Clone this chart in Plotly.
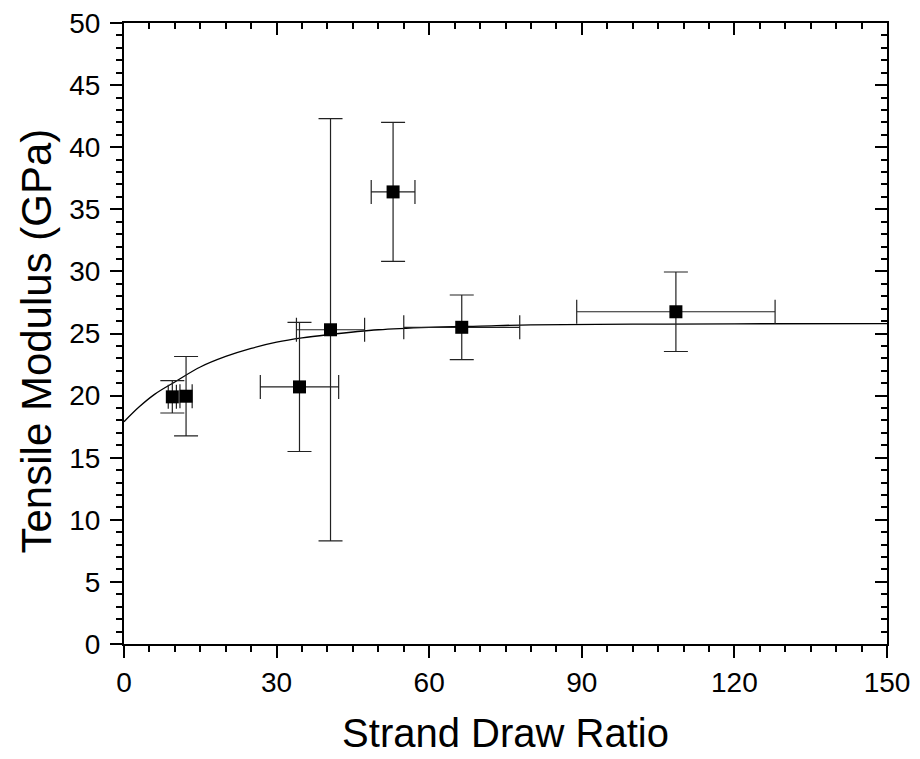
import plotly.graph_objects as go

# Data points
draw_ratio = [9.5, 12.2, 34.5, 40.6, 52.9, 66.4, 108.5]
draw_ratio_err = [0.8, 1.2, 7.7, 6.7, 4.3, 11.4, 19.5]
modulus = [19.9, 19.95, 20.7, 25.3, 36.4, 25.5, 26.75]
modulus_err = [1.3, 3.2, 5.2, 17.0, 5.6, 2.6, 3.2]

# Fitted curve
curve_x = [0, 3, 6, 10, 15, 20, 25, 30, 35, 40, 50, 60, 70, 80, 100, 120, 150]
curve_y = [17.9, 19.1, 20.1, 21.1, 22.3, 23.15, 23.8, 24.3, 24.65, 24.9, 25.3, 25.5, 25.6, 25.7, 25.75, 25.78, 25.8]

x_ticks = [0, 30, 60, 90, 120, 150]
y_ticks = [0, 5, 10, 15, 20, 25, 30, 35, 40, 45, 50]

x_title = "Strand Draw Ratio"
y_title = "Tensile Modulus (GPa)"

FONT = "Liberation Sans"

fig = go.Figure()
fig.add_trace(go.Scatter(x=curve_x, y=curve_y, mode="lines",
                         line=dict(color="black", width=1.3, shape="spline"),
                         showlegend=False, hoverinfo="skip"))
fig.add_trace(go.Scatter(
    x=draw_ratio, y=modulus, mode="markers",
    marker=dict(symbol="square", size=13, color="black"),
    error_x=dict(type="data", array=draw_ratio_err, color="#222", thickness=1.2, width=12),
    error_y=dict(type="data", array=modulus_err, color="#222", thickness=1.2, width=12),
    showlegend=False))
# invisible trace for mirror axes
fig.add_trace(go.Scatter(x=[0], y=[0], xaxis="x2", yaxis="y2", mode="markers",
                         marker=dict(opacity=0), showlegend=False, hoverinfo="skip"))

axis_common = dict(showgrid=False, zeroline=False, showline=True, linecolor="black",
                   linewidth=2, automargin=False)
tickfont = dict(family=FONT, size=28, color="black")
titlefont = dict(family=FONT, size=40, color="black")
ytitlefont = dict(family=FONT, size=42, color="black")

fig.update_layout(
    width=920, height=759,
    margin=dict(l=115.5, r=41, t=14.5, b=122.5),
    paper_bgcolor="white", plot_bgcolor="white",
    font=dict(family=FONT, color="black"),
    xaxis=dict(range=[0, 150], tickvals=x_ticks, ticks="outside", ticklen=12, tickwidth=2,
               tickcolor="black", tickfont=tickfont, ticklabeloverflow="allow",
               minor=dict(dtick=5, tick0=0, ticks="outside", ticklen=6, tickwidth=1.5, tickcolor="black"),
               title=dict(text=x_title, font=titlefont, standoff=22),
               **axis_common),
    yaxis=dict(range=[0, 50], tickvals=y_ticks, ticks="outside", ticklen=12, tickwidth=2,
               tickcolor="black", tickfont=tickfont, ticklabelstandoff=4, ticklabeloverflow="allow",
               minor=dict(dtick=1, tick0=0, ticks="outside", ticklen=6, tickwidth=1.5, tickcolor="black"),
               **axis_common),
    xaxis2=dict(range=[0, 150], overlaying="x", side="top", anchor="y2", tickvals=x_ticks,
                ticks="inside", ticklen=12, tickwidth=2, tickcolor="black", showticklabels=False,
                minor=dict(dtick=5, tick0=0, ticks="inside", ticklen=6, tickwidth=1.5, tickcolor="black"),
                **axis_common),
    yaxis2=dict(range=[0, 50], overlaying="y", side="right", anchor="x2", tickvals=y_ticks,
                ticks="inside", ticklen=12, tickwidth=2, tickcolor="black", showticklabels=False,
                minor=dict(dtick=1, tick0=0, ticks="inside", ticklen=6, tickwidth=1.5, tickcolor="black"),
                **axis_common),
    annotations=[dict(text=y_title, textangle=-90, font=ytitlefont, showarrow=False,
                      xref="paper", yref="paper", x=0, y=0.5, xanchor="center", yanchor="middle",
                      xshift=-88, yshift=-8)],
)

fig.write_html("out.html")
